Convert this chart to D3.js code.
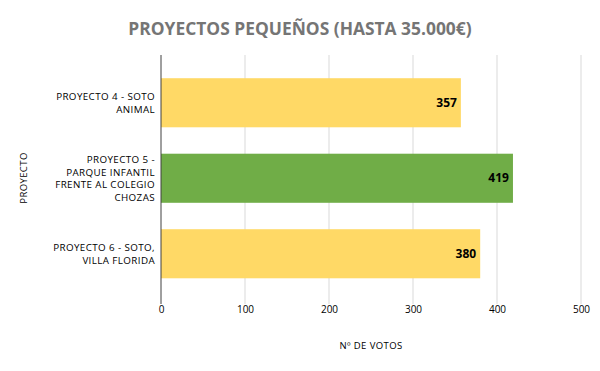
<!DOCTYPE html>
<html>
<head>
<meta charset="utf-8">
<script src="https://cdn.jsdelivr.net/npm/d3@7"></script>
<style>
  body { margin: 0; background: #fff; }
  svg { font-family: "Open Sans", sans-serif; }
</style>
</head>
<body>
<div id="chart"></div>
<script>
const categories = [
  ["PROYECTO 4 - SOTO", "ANIMAL"],
  ["PROYECTO 5 -", "PARQUE INFANTIL", "FRENTE AL COLEGIO", "CHOZAS"],
  ["PROYECTO 6 - SOTO,", "VILLA FLORIDA"]
];
const votes = [357, 419, 380];
const barColors = ["#FFD966", "#70AD47", "#FFD966"];
const xTicks = [0, 100, 200, 300, 400, 500];

const w = 600;
const h = 371;
const margin = { top: 65, right: 19, bottom: 80, left: 161 };
const gridTop = 55;
const gridBottom = 304;

const svg = d3.select("#chart")
  .append("svg")
  .attr("width", w)
  .attr("height", h);

const x = d3.scaleLinear().domain([0, 500]).range([margin.left, w - margin.right]);
const y = d3.scaleBand()
  .domain(d3.range(categories.length))
  .range([margin.top, 291.5])
  .paddingInner(0.35)
  .paddingOuter(0.175);

// gridlines
svg.selectAll("line.grid")
  .data(xTicks.slice(1))
  .enter()
  .append("line")
  .attr("x1", d => x(d))
  .attr("x2", d => x(d))
  .attr("y1", gridTop)
  .attr("y2", gridBottom)
  .attr("stroke", "#d9d9d9")
  .attr("stroke-width", 1);

svg.selectAll("rect")
  .data(votes)
  .enter()
  .append("rect")
  .attr("x", x(0))
  .attr("y", (d, i) => y(i))
  .attr("width", d => x(d) - x(0))
  .attr("height", y.bandwidth())
  .attr("fill", (d, i) => barColors[i]);

// axis line at 0
svg.append("line")
  .attr("x1", x(0)).attr("x2", x(0))
  .attr("y1", gridTop).attr("y2", gridBottom)
  .attr("stroke", "#404040")
  .attr("stroke-width", 1);

// value labels
svg.selectAll("text.val")
  .data(votes)
  .enter()
  .append("text")
  .attr("x", d => x(d) - 4)
  .attr("y", (d, i) => y(i) + y.bandwidth() / 2 + 4)
  .attr("text-anchor", "end")
  .attr("font-size", 12)
  .attr("font-weight", "bold")
  .attr("fill", "#000")
  .text(d => d);

// x axis tick labels
const xAxis = d3.axisBottom(x).tickValues(xTicks).tickSize(0).tickPadding(0);
const gx = svg.append("g")
  .attr("transform", "translate(0,306)")
  .call(xAxis);
gx.select(".domain").remove();
gx.selectAll("text")
  .attr("font-family", "Open Sans, sans-serif")
  .attr("font-size", 10)
  .attr("fill", "#000")
  .attr("dy", "0.7em");

// category labels
const lineH = 12.5;
categories.forEach((lines, i) => {
  const cy = y(i) + y.bandwidth() / 2;
  const t = svg.append("text")
    .attr("text-anchor", "end")
    .attr("font-size", 9.8)
    .attr("letter-spacing", 0.4)
    .attr("fill", "#000");
  lines.forEach((ln, j) => {
    t.append("tspan")
      .attr("x", 155)
      .attr("y", cy + (j - (lines.length - 1) / 2) * lineH + 3.5)
      .text(ln);
  });
});

// title
svg.append("text")
  .attr("x", 300)
  .attr("y", 35)
  .attr("text-anchor", "middle")
  .attr("font-size", 17.4)
  .attr("font-weight", "bold")
  .attr("fill", "#757575")
  .text("PROYECTOS PEQUEÑOS (HASTA 35.000€)");

// axis titles
svg.append("text")
  .attr("x", 371)
  .attr("y", 349)
  .attr("text-anchor", "middle")
  .attr("font-size", 9.5)
  .attr("letter-spacing", 0.4)
  .attr("fill", "#000")
  .text("Nº DE VOTOS");

svg.append("text")
  .attr("transform", "translate(27,178) rotate(-90)")
  .attr("text-anchor", "middle")
  .attr("font-size", 9.5)
  .attr("letter-spacing", 0.4)
  .attr("fill", "#000")
  .text("PROYECTO");
</script>
</body>
</html>
